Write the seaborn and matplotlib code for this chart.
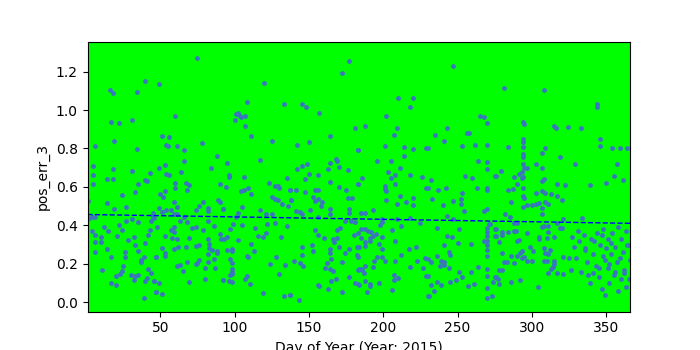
import matplotlib
matplotlib.use("Agg")
import matplotlib.pyplot as plt
import seaborn as sns
import pandas as pd

# (day of year, pos_err_3), grouped by day range
days_001_046 = [(40,1.15),(16,1.103),(18,1.089),(34,1.094),(17,0.938),(22,0.933),(31,0.947),(19,0.839),(6,0.812),(34,0.798),
    (5,0.708),(18,0.694),(31,0.683),(43,0.673),(5,0.661),(14,0.642),(18,0.642),(40,0.635),(41,0.63),(5,0.614),
    (35,0.614),(33,0.572),(24,0.557),(1,0.525),(14,0.515),(27,0.494),(19,0.484),(4,0.442),(6,0.442),(45,0.463),
    (45,0.442),(27,0.421),(31,0.432),(35,0.416),(44,0.421),(22,0.401),(12,0.39),(4,0.369),(15,0.369),(24,0.375),
    (43,0.375),(6,0.349),(21,0.343),(10,0.338),(32,0.338),(42,0.349),(28,0.323),(6,0.312),(10,0.312),(33,0.297),
    (40,0.307),(14,0.276),(26,0.26),(6,0.26),(35,0.265),(17,0.234),(26,0.234),(39,0.234),(37,0.219),(47,0.234),
    (37,0.208),(25,0.187),(11,0.166),(42,0.172),(24,0.161),(44,0.151),(23,0.146),(20,0.135),(30,0.14),(33,0.135),
    (35,0.14),(32,0.114),(41,0.125),(40,0.109),(46,0.109),(17,0.099),(20,0.088),(47,0.052),(39,0.021),(2,0.44)]

days_046_092 = [(75,1.27),(49,1.134),(60,0.968),(51,0.864),(56,0.858),(54,0.817),(55,0.812),(61,0.812),(78,0.827),(66,0.791),
    (88,0.76),(66,0.734),(49,0.699),(53,0.713),(84,0.699),(64,0.676),(54,0.666),(56,0.661),(60,0.619),(60,0.593),
    (67,0.619),(69,0.609),(68,0.583),(90,0.614),(53,0.578),(50,0.562),(52,0.546),(59,0.52),(79,0.52),(89,0.531),
    (90,0.52),(49,0.489),(54,0.479),(57,0.479),(61,0.494),(76,0.499),(82,0.489),(82,0.473),(92,0.484),(51,0.468),
    (59,0.458),(74,0.479),(61,0.458),(46,0.437),(66,0.442),(63,0.421),(68,0.416),(82,0.421),(48,0.39),(59,0.39),
    (57,0.375),(59,0.364),(71,0.385),(74,0.39),(79,0.375),(86,0.395),(53,0.343),(58,0.333),(61,0.328),(69,0.333),
    (82,0.328),(90,0.354),(91,0.328),(74,0.291),(76,0.297),(83,0.302),(51,0.281),(59,0.276),(62,0.286),(67,0.286),
    (83,0.281),(85,0.27),(88,0.265),(53,0.255),(53,0.239),(47,0.234),(82,0.25),(88,0.255),(86,0.224),(76,0.219),
    (68,0.208),(74,0.198),(82,0.208),(61,0.187),(63,0.192),(75,0.203),(80,0.177),(87,0.177),(65,0.161),(80,0.12),
    (69,0.104),(92,0.114),(46,0.109),(49,0.099),(47,0.052),(51,0.042)]

days_092_138 = [(120,1.139),(108,1.041),(133,1.03),(102,0.983),(101,0.978),(103,0.973),(107,0.968),(104,0.963),(100,0.947),(107,0.916),
    (111,0.864),(125,0.838),(117,0.739),(95,0.723),(96,0.661),(96,0.65),(106,0.65),(135,0.645),(94,0.598),(123,0.619),
    (109,0.593),(127,0.603),(129,0.603),(130,0.593),(104,0.578),(106,0.583),(111,0.562),(137,0.583),(125,0.546),(127,0.536),
    (129,0.531),(138,0.531),(132,0.51),(136,0.499),(105,0.494),(117,0.479),(92,0.484),(102,0.463),(121,0.458),(125,0.458),
    (101,0.442),(99,0.406),(105,0.401),(122,0.406),(127,0.411),(135,0.395),(114,0.385),(97,0.38),(95,0.338),(93,0.328),
    (102,0.323),(121,0.359),(116,0.343),(119,0.338),(131,0.338),(111,0.302),(95,0.27),(98,0.276),(98,0.265),(113,0.265),
    (108,0.239),(109,0.234),(128,0.234),(97,0.224),(98,0.203),(124,0.198),(134,0.192),(98,0.172),(98,0.156),(98,0.146),
    (97,0.14),(130,0.146),(108,0.135),(107,0.12),(92,0.114),(96,0.109),(98,0.104),(110,0.094),(119,0.047),(133,0.031),
    (137,0.036)]

days_138_184 = [(177,1.254),(172,1.191),(145,1.03),(148,1.015),(157,0.983),(181,0.905),(164,0.864),(142,0.817),(150,0.832),(183,0.791),
    (168,0.744),(169,0.734),(149,0.718),(164,0.723),(145,0.708),(142,0.692),(170,0.702),(163,0.692),(176,0.687),(150,0.666),
    (156,0.661),(147,0.64),(164,0.624),(183,0.614),(170,0.598),(137,0.583),(141,0.583),(154,0.583),(156,0.583),(175,0.583),
    (147,0.572),(153,0.546),(176,0.541),(179,0.541),(138,0.531),(154,0.525),(156,0.536),(159,0.52),(158,0.499),(164,0.484),
    (177,0.484),(141,0.473),(144,0.468),(151,0.479),(164,0.458),(177,0.463),(145,0.458),(156,0.442),(174,0.421),(178,0.421),
    (181,0.416),(154,0.375),(171,0.385),(169,0.375),(183,0.359),(156,0.349),(160,0.333),(180,0.349),(166,0.328),(167,0.312),
    (169,0.333),(152,0.297),(145,0.286),(164,0.276),(170,0.286),(177,0.276),(182,0.286),(153,0.265),(164,0.255),(174,0.255),
    (182,0.244),(183,0.234),(145,0.244),(165,0.224),(140,0.213),(172,0.208),(144,0.203),(162,0.203),(146,0.187),(161,0.177),
    (164,0.172),(166,0.161),(183,0.166),(177,0.13),(168,0.12),(165,0.109),(181,0.099),(183,0.094),(156,0.088),(157,0.083),
    (163,0.068),(172,0.052),(137,0.036),(143,0.01)]

days_184_230 = [(210,1.061),(220,1.061),(218,1.015),(202,0.968),(188,0.916),(209,0.905),(207,0.869),(183,0.791),(201,0.812),(214,0.806),
    (220,0.796),(229,0.801),(214,0.76),(196,0.734),(205,0.734),(211,0.697),(203,0.676),(186,0.645),(205,0.645),(208,0.661),
    (218,0.661),(226,0.65),(183,0.614),(201,0.603),(201,0.588),(202,0.578),(208,0.614),(229,0.593),(211,0.551),(220,0.541),
    (202,0.531),(215,0.52),(209,0.51),(220,0.505),(193,0.479),(185,0.463),(188,0.463),(199,0.432),(199,0.416),(218,0.437),
    (209,0.432),(225,0.411),(212,0.395),(198,0.401),(185,0.38),(188,0.38),(190,0.369),(192,0.364),(195,0.354),(193,0.343),
    (185,0.333),(191,0.333),(188,0.312),(191,0.317),(199,0.338),(206,0.375),(208,0.317),(197,0.302),(184,0.286),(188,0.291),
    (199,0.276),(217,0.276),(222,0.286),(212,0.244),(196,0.234),(199,0.234),(228,0.229),(194,0.213),(201,0.213),(208,0.213),
    (223,0.213),(188,0.187),(193,0.182),(218,0.182),(227,0.177),(184,0.172),(186,0.166),(187,0.151),(185,0.172),(207,0.14),
    (210,0.125),(229,0.135),(188,0.109),(207,0.114),(197,0.099),(191,0.094),(184,0.088),(191,0.083),(206,0.062),(189,0.052),
    (230,0.031)]

days_230_275 = [(247,1.228),(265,0.968),(268,0.963),(270,0.931),(243,0.905),(235,0.869),(256,0.879),(258,0.879),(241,0.838),(230,0.801),
    (253,0.812),(262,0.817),(270,0.817),(264,0.734),(270,0.728),(270,0.692),(255,0.656),(260,0.645),(275,0.656),(232,0.635),
    (230,0.593),(237,0.583),(242,0.593),(263,0.593),(270,0.593),(270,0.583),(253,0.567),(233,0.536),(252,0.536),(247,0.525),
    (252,0.51),(240,0.505),(254,0.473),(268,0.473),(270,0.484),(243,0.447),(247,0.432),(271,0.406),(272,0.406),(236,0.385),
    (251,0.38),(270,0.385),(270,0.364),(275,0.38),(243,0.343),(246,0.338),(270,0.343),(275,0.343),(268,0.317),(270,0.317),
    (250,0.307),(259,0.302),(241,0.297),(270,0.297),(270,0.27),(244,0.26),(245,0.244),(270,0.239),(236,0.239),(230,0.224),
    (232,0.208),(239,0.213),(241,0.208),(238,0.187),(241,0.192),(244,0.177),(264,0.182),(270,0.172),(251,0.156),(259,0.156),
    (253,0.13),(270,0.135),(275,0.13),(249,0.114),(245,0.104),(236,0.104),(274,0.104),(230,0.135),(232,0.088),(239,0.088),
    (257,0.083),(261,0.094),(270,0.073),(234,0.057),(231,0.031),(270,0.021),(273,0.031)]

days_275_321 = [(281,1.113),(308,1.103),(294,0.937),(295,0.926),(315,0.916),(316,0.905),(294,0.848),(294,0.832),(284,0.806),(294,0.806),
    (309,0.801),(307,0.775),(294,0.77),(294,0.754),(319,0.754),(303,0.718),(294,0.718),(295,0.697),(297,0.697),(307,0.697),
    (279,0.681),(293,0.676),(291,0.666),(276,0.656),(288,0.65),(294,0.65),(293,0.645),(308,0.64),(307,0.63),(317,0.614),
    (290,0.614),(287,0.588),(284,0.583),(294,0.593),(307,0.578),(309,0.567),(303,0.567),(313,0.562),(317,0.551),(294,0.551),
    (295,0.541),(320,0.531),(286,0.52),(309,0.52),(311,0.51),(297,0.505),(300,0.505),(303,0.51),(305,0.515),(294,0.494),
    (307,0.489),(307,0.458),(282,0.458),(285,0.442),(321,0.432),(288,0.411),(290,0.411),(307,0.39),(308,0.395),(311,0.395),
    (317,0.411),(319,0.385),(320,0.385),(276,0.38),(288,0.369),(280,0.364),(284,0.364),(289,0.369),(297,0.359),(311,0.364),
    (276,0.343),(280,0.349),(305,0.338),(310,0.333),(315,0.338),(305,0.328),(291,0.323),(290,0.317),(278,0.312),(299,0.286),
    (301,0.265),(308,0.281),(312,0.27),(309,0.255),(293,0.265),(292,0.255),(280,0.255),(286,0.239),(290,0.239),(293,0.229),
    (295,0.234),(311,0.25),(321,0.234),(297,0.213),(300,0.213),(308,0.213),(310,0.213),(315,0.213),(281,0.208),(283,0.208),
    (288,0.203),(315,0.198),(314,0.182),(313,0.172),(278,0.166),(280,0.166),(311,0.151),(317,0.151),(321,0.146),(276,0.13),
    (277,0.12),(292,0.114),(286,0.104),(278,0.094),(304,0.078)]

days_321_366 = [(322,0.61),(324,0.91),(325,0.23),(326,0.17),(327,0.34),(328,0.29),(329,0.72),(330,0.23),(331,0.37),(332,0.32),
    (333,0.906),(333,0.16),(334,0.44),(335,0.35),(336,0.28),(336,0.27),(337,0.21),(338,0.14),(339,0.61),(339,0.10),
    (340,0.33),(341,0.15),(341,0.25),(342,0.32),(343,0.19),(344,1.03),(344,1.016),(344,0.36),(345,0.18),(345,0.13),
    (346,0.85),(346,0.815),(346,0.30),(347,0.35),(347,0.07),(348,0.24),(348,0.38),(349,0.22),(349,0.04),(350,0.28),
    (350,0.62),(351,0.33),(351,0.18),(352,0.20),(352,0.10),(353,0.31),(353,0.25),(354,0.80),(354,0.36),(355,0.655),
    (355,0.14),(356,0.16),(356,0.29),(357,0.72),(357,0.21),(358,0.39),(358,0.06),(359,0.80),(359,0.23),(360,0.33),
    (360,0.12),(361,0.635),(361,0.26),(362,0.15),(362,0.17),(363,0.37),(363,0.08),(364,0.80),(364,0.30),(365,0.30),
    (365,0.12),(366,0.22)]

x_label = "Day of Year (Year: 2015)"
y_label = "pos_err_3"

groups = [days_001_046, days_046_092, days_092_138, days_138_184,
          days_184_230, days_230_275, days_275_321, days_321_366]
rows = [p for g in groups for p in g]
df = pd.DataFrame(rows, columns=["day", "pos_err_3"])

fig, ax = plt.subplots(figsize=(7, 3.5), dpi=100)
ax.set_facecolor("#00ff00")
sns.scatterplot(data=df, x="day", y="pos_err_3", ax=ax, s=12,
                color="#3a76c0", linewidth=0, marker="o", zorder=2)
sns.regplot(data=df, x="day", y="pos_err_3", ax=ax, scatter=False, ci=None,
            line_kws=dict(color="blue", ls="--", lw=1), truncate=True)
ax.set_xlim(df["day"].min(), df["day"].max())
ax.set_ylim(-0.048, 1.354)
ax.set_xlabel(x_label)
ax.set_ylabel(y_label)
fig.savefig("out.png", dpi=100)
